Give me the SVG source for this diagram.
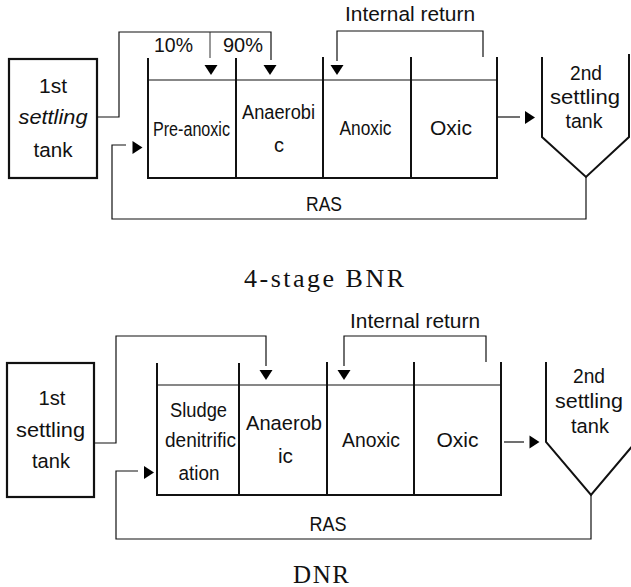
<svg xmlns="http://www.w3.org/2000/svg" xmlns:xlink="http://www.w3.org/1999/xlink" width="631" height="587" viewBox="0 0 631 587">
<style>
.bg{fill:#fff}
.t{font-family:"Liberation Sans",Arial,sans-serif;font-size:20px;fill:#111;text-anchor:middle}
.big{font-size:20.5px}
.cap{font-family:"Liberation Serif","Times New Roman",serif;fill:#111;text-anchor:middle}
.wall{fill:none;stroke:#111;stroke-width:2}
.thin{fill:none;stroke:#111;stroke-width:1.2}
.dot{fill:none;stroke:#333;stroke-width:1}
.box{fill:none;stroke:#111;stroke-width:2.2}
.ah{fill:#000}
</style>
<defs>
<path id="td" d="M-6.5,-5 L6.5,-5 L0,5 Z"/>
<path id="tr" d="M-5,-6.5 L5,0 L-5,6.5 Z"/>
</defs>
<rect class="bg" width="631" height="587"/>

<!-- ===== Top: 4-stage BNR ===== -->
<g id="top-settling1">
<rect class="box" x="9" y="59" width="88" height="119"/>
<text class="t big" x="53" y="93" textLength="28" lengthAdjust="spacingAndGlyphs">1st</text>
<text class="t big" x="53" y="124" font-style="italic" textLength="69" lengthAdjust="spacingAndGlyphs">settling</text>
<text class="t big" x="53" y="157" textLength="39" lengthAdjust="spacingAndGlyphs">tank</text>
</g>
<g id="top-reactor">
<path class="wall" d="M148,58 V178 H497 V57 M236,58 V178 M323,57 V178 M411,57 V178"/>
<path class="thin" d="M148,80 H497"/>
<text class="t" x="191.5" y="136" textLength="77" lengthAdjust="spacingAndGlyphs">Pre-anoxic</text>
<text class="t" x="278.5" y="119" textLength="73" lengthAdjust="spacingAndGlyphs">Anaerobi</text>
<text class="t" x="279" y="152">c</text>
<text class="t" x="365.5" y="135" textLength="52" lengthAdjust="spacingAndGlyphs">Anoxic</text>
<text class="t" x="451" y="135" textLength="42" lengthAdjust="spacingAndGlyphs">Oxic</text>
</g>
<g id="top-settling2">
<path class="wall" d="M542,57 V137 L586,177 L629,137 V54"/>
<text class="t big" x="586" y="80" textLength="32" lengthAdjust="spacingAndGlyphs">2nd</text>
<text class="t big" x="585" y="104" textLength="70" lengthAdjust="spacingAndGlyphs">settling</text>
<text class="t big" x="584" y="128" textLength="37" lengthAdjust="spacingAndGlyphs">tank</text>
</g>
<g id="top-connectors">
<path class="thin" d="M97,117 H119 V32 H271 V60"/>
<path class="dot" d="M210,32 V58"/>
<use xlink:href="#td" class="ah" x="211" y="70"/>
<use xlink:href="#td" class="ah" x="270" y="70"/>
<text class="t big" x="173.5" y="52" textLength="39" lengthAdjust="spacingAndGlyphs">10%</text>
<text class="t big" x="243" y="52" textLength="40" lengthAdjust="spacingAndGlyphs">90%</text>
<path class="thin" d="M483,57 V31 H337 V61"/>
<use xlink:href="#td" class="ah" x="337" y="70"/>
<text class="t big" x="410" y="21" textLength="130" lengthAdjust="spacingAndGlyphs">Internal return</text>
<path class="thin" d="M498,117 H520"/>
<use xlink:href="#tr" class="ah" x="530" y="117.5"/>
<path class="thin" d="M586,177 V219 H112 V145 H126"/>
<use xlink:href="#tr" class="ah" x="137.5" y="147.5"/>
<text class="t big" x="324" y="211" textLength="36" lengthAdjust="spacingAndGlyphs">RAS</text>
</g>
<text class="cap" x="324" y="287" font-size="26" textLength="160" lengthAdjust="spacing">4-stage  BNR</text>

<!-- ===== Bottom: DNR ===== -->
<g id="bot-settling1">
<rect class="box" x="7" y="363" width="87" height="134"/>
<text class="t big" x="52" y="405" textLength="27" lengthAdjust="spacingAndGlyphs">1st</text>
<text class="t big" x="50.5" y="437" textLength="69" lengthAdjust="spacingAndGlyphs">settling</text>
<text class="t big" x="51" y="468" textLength="38" lengthAdjust="spacingAndGlyphs">tank</text>
</g>
<g id="bot-reactor">
<path class="wall" d="M157,363 V495 H501 V362 M239,363 V495 M327,362 V495 M414,362 V495"/>
<path class="thin" d="M157,385 H501"/>
<text class="t big" x="198.5" y="417" textLength="57" lengthAdjust="spacingAndGlyphs">Sludge</text>
<text class="t big" x="200.5" y="447" textLength="71" lengthAdjust="spacingAndGlyphs">denitrific</text>
<text class="t big" x="199" y="480" textLength="41" lengthAdjust="spacingAndGlyphs">ation</text>
<text class="t big" x="284" y="430" textLength="76" lengthAdjust="spacingAndGlyphs">Anaerob</text>
<text class="t big" x="285.5" y="463" textLength="15" lengthAdjust="spacingAndGlyphs">ic</text>
<text class="t big" x="371" y="447" textLength="58" lengthAdjust="spacingAndGlyphs">Anoxic</text>
<text class="t big" x="457.5" y="447" textLength="42" lengthAdjust="spacingAndGlyphs">Oxic</text>
</g>
<g id="bot-settling2">
<path class="wall" d="M546,362 V442 L591,495 L640,437"/>
<text class="t big" x="589" y="383" textLength="32" lengthAdjust="spacingAndGlyphs">2nd</text>
<text class="t big" x="589" y="408" textLength="68" lengthAdjust="spacingAndGlyphs">settling</text>
<text class="t big" x="590" y="433" textLength="38" lengthAdjust="spacingAndGlyphs">tank</text>
</g>
<g id="bot-connectors">
<path class="thin" d="M94,443 H116 V336 H266 V366"/>
<use xlink:href="#td" class="ah" x="266" y="375"/>
<path class="thin" d="M486,362 V336 H344 V366"/>
<use xlink:href="#td" class="ah" x="344" y="375"/>
<text class="t big" x="415" y="328" textLength="130" lengthAdjust="spacingAndGlyphs">Internal return</text>
<path class="thin" d="M504,442 H524"/>
<use xlink:href="#tr" class="ah" x="534.5" y="442"/>
<path class="thin" d="M591,495 V539 H116 V471 H138"/>
<use xlink:href="#tr" class="ah" x="149" y="472.5"/>
<text class="t big" x="328" y="531" textLength="37" lengthAdjust="spacingAndGlyphs">RAS</text>
</g>
<text class="cap" x="321" y="583" font-size="25" textLength="56" lengthAdjust="spacing">DNR</text>
</svg>
